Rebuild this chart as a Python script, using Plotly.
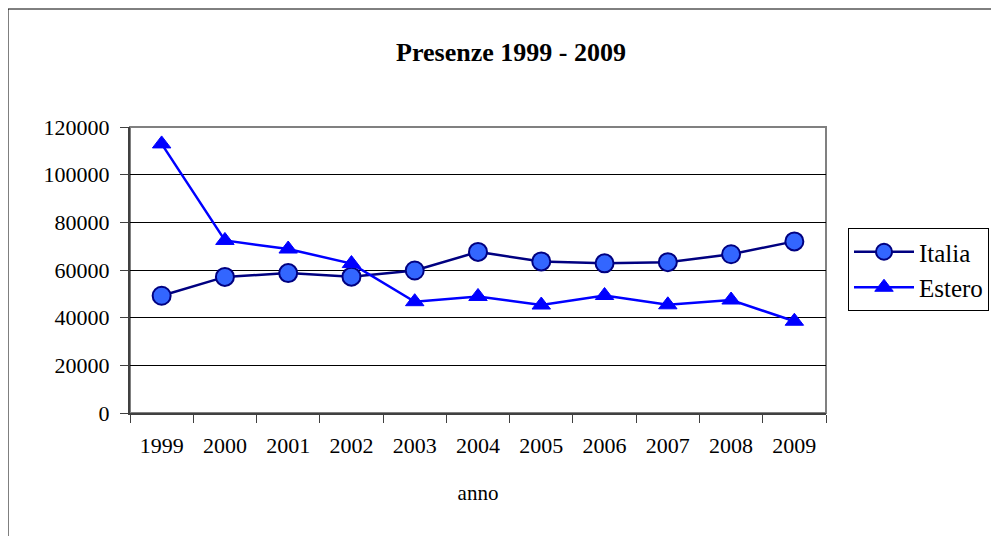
import plotly.graph_objects as go

anni = ["1999", "2000", "2001", "2002", "2003", "2004", "2005", "2006", "2007", "2008", "2009"]
italia = [49200, 57100, 58700, 57200, 59800, 67600, 63600, 62800, 63300, 66600, 72000]
estero = [112900, 72400, 68800, 62700, 46700, 48900, 45300, 49300, 45400, 47400, 38500]
y_ticks = [0, 20000, 40000, 60000, 80000, 100000, 120000]

W, H = 999, 536
OFF = 8  # page body margin offset
L, R, T, B = 130 - OFF, 826 - OFF, 127 - OFF, 413 - OFF

FONT = "Liberation Serif, Times New Roman, serif"

fig = go.Figure()
fig.add_trace(go.Scatter(
    x=anni, y=italia, name="Italia", mode="lines+markers",
    line=dict(color="#000080", width=2.5),
    marker=dict(symbol="circle", size=18, color="#3366FF",
                line=dict(color="#000080", width=2)),
))
fig.add_trace(go.Scatter(
    x=anni, y=estero, name="Estero", mode="lines+markers",
    line=dict(color="#0000FF", width=2.5),
    marker=dict(symbol="triangle-up", size=16, color="#0000FF",
                line=dict(color="#0000FF", width=1)),
))

pw = R - L
ph = B - T

def px2x(px):
    return (px - OFF - L) / pw

def px2y(py):
    return (B - (py - OFF)) / ph

fig.update_layout(
    width=W, height=H,
    margin=dict(l=L, r=W - R, t=T, b=H - B),
    paper_bgcolor="white", plot_bgcolor="white",
    font=dict(family=FONT, color="black", size=22),
    title=dict(text="<b>Presenze 1999 - 2009</b>", xref="container", yref="container",
               x=(511 - OFF) / W, y=1 - (52 - OFF) / H, xanchor="center", yanchor="middle",
               font=dict(family=FONT, size=26, color="black")),
    showlegend=True,
    legend=dict(x=px2x(848), y=px2y(228), xanchor="left", yanchor="top",
                bordercolor="black", borderwidth=1, bgcolor="white",
                font=dict(family=FONT, size=25, color="black"),
                itemwidth=60, tracegroupgap=0),
    xaxis=dict(type="category", range=[-0.5, 10.5], tickson="boundaries",
               ticks="outside", ticklen=8, tickcolor="#404040", tickwidth=1,
               showgrid=False, showline=True, linecolor="#404040", linewidth=2,
               tickfont=dict(family=FONT, size=22, color="black"),
               ticklabelstandoff=12,
               title=dict(text="anno", standoff=28,
                          font=dict(family=FONT, size=21, color="black"))),
    yaxis=dict(range=[0, 120000], tickvals=y_ticks, tickformat="d",
               ticks="outside", ticklen=8, tickcolor="#404040", tickwidth=1,
               showgrid=True, gridcolor="black", gridwidth=1,
               showline=True, linecolor="#404040", linewidth=2,
               zeroline=False, ticklabelstandoff=6,
               tickfont=dict(family=FONT, size=22, color="black")),
    shapes=[
        dict(type="rect", xref="paper", yref="paper", x0=0, x1=1, y0=0, y1=1,
             line=dict(color="#808080", width=2), layer="below"),
        dict(type="rect", xref="paper", yref="paper",
             x0=px2x(8), x1=px2x(1014), y0=px2y(560), y1=px2y(9),
             line=dict(color="black", width=1), layer="below"),
    ],
)

fig.write_html("out.html")
